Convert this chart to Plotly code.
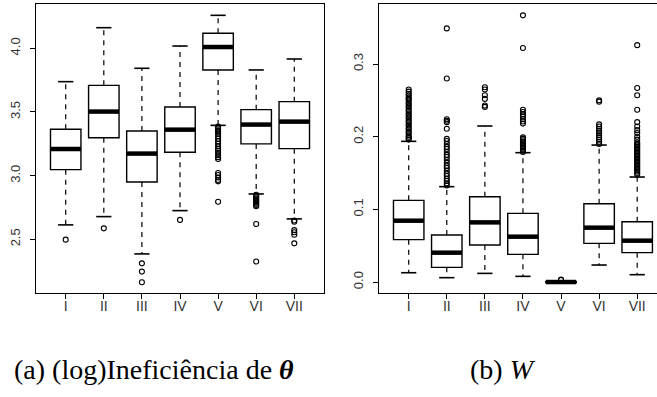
import plotly.graph_objects as go

# ---------------- data ----------------
cats = ["I", "II", "III", "IV", "V", "VI", "VII"]
pos = [1, 2, 3, 4, 5, 6, 7]

# (a) (log) inefficiency of theta
theta_lower = [2.613, 2.678, 2.385, 2.725, 3.395, 2.856, 2.660]
theta_q1 = [3.047, 3.298, 2.950, 3.183, 3.830, 3.249, 3.212]
theta_median = [3.209, 3.503, 3.173, 3.361, 4.010, 3.401, 3.424]
theta_q3 = [3.364, 3.709, 3.351, 3.539, 4.118, 3.518, 3.581]
theta_upper = [3.738, 4.162, 3.843, 4.018, 4.259, 3.830, 3.916]

t_out_I = [2.497]
t_out_II = [2.586]
t_out_III = [2.311, 2.246, 2.162]
t_out_IV = [2.652]
t_out_V = [3.385, 3.37, 3.355, 3.345, 3.33, 3.31, 3.29, 3.27, 3.25, 3.23, 3.21,
           3.195, 3.18, 3.16, 3.145, 3.13, 3.02, 3.005, 2.985, 2.965, 2.955, 2.795]
t_out_VI = [2.85, 2.84, 2.83, 2.82, 2.81, 2.80, 2.79, 2.78, 2.77, 2.76, 2.62, 2.325]
t_out_VII = [2.648, 2.638, 2.572, 2.555, 2.535, 2.468]

# (b) W
w_lower = [0.0128, 0.0060, 0.0119, 0.0078, -0.0015, 0.0234, 0.0101]
w_q1 = [0.0583, 0.0202, 0.0509, 0.0381, -0.0006, 0.0532, 0.0404]
w_median = [0.0844, 0.0404, 0.0821, 0.0624, 0.0, 0.0748, 0.0569]
w_q3 = [0.1124, 0.0647, 0.1174, 0.0945, 0.0006, 0.1078, 0.0830]
w_upper = [0.1936, 0.1312, 0.2147, 0.1780, 0.0016, 0.1885, 0.1445]

w_out_I = [0.265, 0.262, 0.259, 0.257, 0.254, 0.252, 0.250, 0.247, 0.245, 0.242,
           0.240, 0.237, 0.235, 0.232, 0.230, 0.227, 0.225, 0.222, 0.220, 0.217,
           0.215, 0.212, 0.210, 0.207, 0.205, 0.202, 0.200, 0.198, 0.196]
w_out_II = [0.349, 0.280, 0.224, 0.222, 0.220, 0.211, 0.197, 0.194, 0.190, 0.186,
            0.183, 0.179, 0.175, 0.172, 0.168, 0.164, 0.160, 0.157, 0.153, 0.149,
            0.146, 0.142, 0.139, 0.136, 0.133]
w_out_III = [0.268, 0.265, 0.257, 0.252, 0.243, 0.241]
w_out_IV = [0.367, 0.322, 0.237, 0.234, 0.231, 0.228, 0.224, 0.221, 0.218, 0.199,
            0.197, 0.195, 0.193, 0.191, 0.189, 0.187, 0.185, 0.183, 0.181, 0.179]
w_out_V = [0.0028, 0.0035]
w_out_VI = [0.250, 0.248, 0.217, 0.214, 0.211, 0.208, 0.205, 0.202, 0.199, 0.196,
            0.193, 0.190]
w_out_VII = [0.326, 0.267, 0.257, 0.237, 0.220, 0.214, 0.209, 0.205, 0.200, 0.196,
             0.192, 0.190, 0.188, 0.186, 0.184, 0.182, 0.180, 0.178, 0.176, 0.174,
             0.172, 0.170, 0.168, 0.166, 0.164, 0.162, 0.160, 0.158, 0.156, 0.154,
             0.152, 0.150, 0.148]

theta_ticks = [2.5, 3.0, 3.5, 4.0]
theta_ticktext = ["2.5", "3.0", "3.5", "4.0"]
w_ticks = [0.0, 0.1, 0.2, 0.3]
w_ticktext = ["0.0", "0.1", "0.2", "0.3"]

caption_a = "(a) (log)Ineficiência de <b><i>θ</i></b>"
caption_b = "(b) <i>W</i>"

# ---------------- figure ----------------
W_PX, H_PX = 657, 397
fig = go.Figure()

BOXW = 0.8
STAPLE = 0.2


def add_panel(xa, ya, lower, q1, med, q3, upper, outs):
    fig.add_trace(go.Box(
        x=pos, q1=q1, median=med, q3=q3, lowerfence=q1, upperfence=q3,
        width=BOXW, whiskerwidth=0, fillcolor="white",
        line=dict(color="black", width=1.4), boxpoints=False,
        xaxis=xa, yaxis=ya, showlegend=False, hoverinfo="skip"))
    wx, wy, sx, sy, mx, my = [], [], [], [], [], []
    for p, lo, a, m, b, up in zip(pos, lower, q1, med, q3, upper):
        wx += [p, p, None, p, p, None]
        wy += [b, up, None, a, lo, None]
        sx += [p - STAPLE, p + STAPLE, None, p - STAPLE, p + STAPLE, None]
        sy += [up, up, None, lo, lo, None]
        mx += [p - BOXW / 2, p + BOXW / 2, None]
        my += [m, m, None]
    fig.add_trace(go.Scatter(x=wx, y=wy, mode="lines", xaxis=xa, yaxis=ya,
                             line=dict(color="black", width=1.2, dash="5px,5px"),
                             showlegend=False, hoverinfo="skip"))
    fig.add_trace(go.Scatter(x=sx, y=sy, mode="lines", xaxis=xa, yaxis=ya,
                             line=dict(color="black", width=1.6),
                             showlegend=False, hoverinfo="skip"))
    fig.add_trace(go.Scatter(x=mx, y=my, mode="lines", xaxis=xa, yaxis=ya,
                             line=dict(color="black", width=4.5),
                             showlegend=False, hoverinfo="skip"))
    ox, oy = [], []
    for p, vals in zip(pos, outs):
        ox += [p] * len(vals)
        oy += vals
    fig.add_trace(go.Scatter(x=ox, y=oy, mode="markers", xaxis=xa, yaxis=ya,
                             marker=dict(symbol="circle-open", size=5, color="black",
                                         line=dict(width=1.1, color="black")),
                             showlegend=False, hoverinfo="skip"))


add_panel("x", "y", theta_lower, theta_q1, theta_median, theta_q3, theta_upper,
          [t_out_I, t_out_II, t_out_III, t_out_IV, t_out_V, t_out_VI, t_out_VII])
add_panel("x2", "y2", w_lower, w_q1, w_median, w_q3, w_upper,
          [w_out_I, w_out_II, w_out_III, w_out_IV, w_out_V, w_out_VI, w_out_VII])

top, bottom = 4, 104
plot_h = H_PX - top - bottom

xtickfont = dict(family="Liberation Sans", size=14, color="#333")
ytickfont = dict(family="Liberation Sans", size=13, color="#333")
common_x = dict(tickmode="array", tickvals=pos, ticktext=cats, ticks="outside",
                ticklen=5, tickwidth=1, tickcolor="black", showgrid=False,
                zeroline=False, showline=True, linecolor="black", linewidth=1,
                tickfont=xtickfont, ticklabelstandoff=-5)
common_y = dict(tickmode="array", ticks="outside", ticklen=5, tickwidth=1,
                tickcolor="black", showgrid=False, zeroline=False, showline=True,
                linecolor="black", linewidth=1, tickfont=ytickfont, tickangle=-90,
                ticklabelstandoff=5)

fig.update_layout(
    width=W_PX, height=H_PX,
    margin=dict(l=0, r=0, t=top, b=bottom, pad=0),
    paper_bgcolor="white", plot_bgcolor="white",
    xaxis=dict(domain=[36 / W_PX, 324 / W_PX], range=[0.22, 7.78], mirror=True,
               anchor="y", **common_x),
    yaxis=dict(range=[2.078, 4.348], tickvals=theta_ticks, ticktext=theta_ticktext,
               mirror=True, anchor="x", **common_y),
    xaxis2=dict(domain=[379 / W_PX, 1.0], range=[0.22, 7.52], mirror=True,
                anchor="y2", **common_x),
    yaxis2=dict(range=[-0.0151, 0.3826], tickvals=w_ticks, ticktext=w_ticktext,
                mirror=False, anchor="x2", **common_y),
)

capfont = dict(family="Liberation Serif", size=28, color="black")
cap_y = -(370 - (H_PX - bottom)) / plot_h
fig.add_annotation(text=caption_a, xref="paper", yref="paper", x=12 / W_PX, y=cap_y,
                   xanchor="left", yanchor="middle", showarrow=False, font=capfont)
fig.add_annotation(text=caption_b, xref="paper", yref="paper", x=468 / W_PX, y=cap_y,
                   xanchor="left", yanchor="middle", showarrow=False, font=capfont)

fig.write_html("out.html")
